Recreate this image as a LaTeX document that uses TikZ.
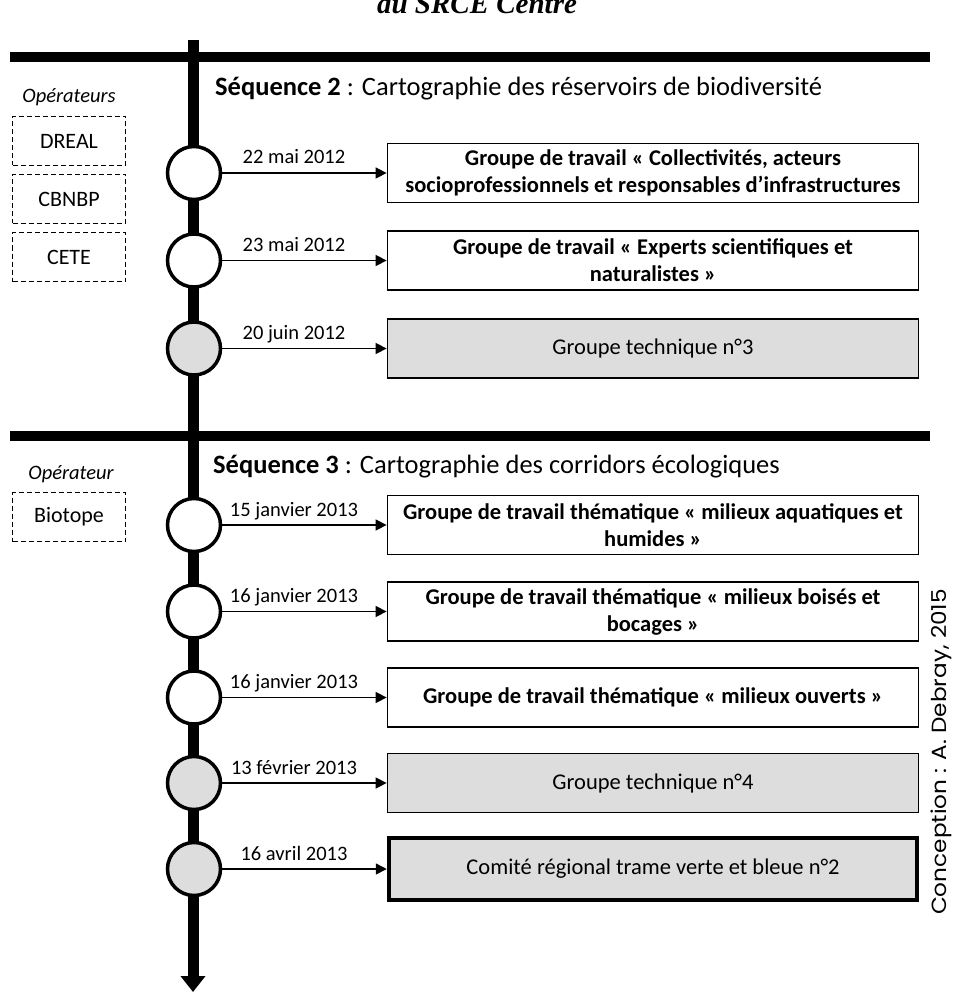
\documentclass[tikz,border=0pt]{standalone}
\usepackage{fontspec}
\setmainfont{Carlito}
\newfontfamily\titlefont{Liberation Serif}
\newfontfamily\creditfont{Poppins}
\usetikzlibrary{arrows.meta}

\definecolor{boxgray}{RGB}{221,221,221}

\tikzset{
  spine/.style={line width=11pt, -{Triangle[length=16pt,width=24pt]}},
  bar/.style={line width=10pt},
  event/.style={circle, draw, line width=3.5pt, minimum size=53pt, inner sep=0pt, fill=white},
  techevent/.style={event, fill=boxgray},
  link/.style={line width=1.5pt, -{Triangle[length=11pt,width=11pt]}},
  datelbl/.style={font=\fontsize{20.5}{24}\selectfont, anchor=base, inner sep=0pt},
  meeting/.style={draw, line width=1.8pt, fill=white, minimum width=531pt, minimum height=59pt,
                  align=center, inner sep=0pt, font=\fontsize{22.5}{27}\selectfont\bfseries},
  techmeeting/.style={meeting, fill=boxgray, font=\fontsize{22.5}{27}\selectfont},
  committee/.style={meeting, line width=4.5pt, fill=boxgray, minimum width=528pt, minimum height=62pt,
                    font=\fontsize{22.5}{27}\selectfont},
  heading/.style={anchor=base west, inner sep=0pt, font=\fontsize{26.5}{30}\selectfont},
  operlbl/.style={anchor=base, inner sep=0pt, font=\fontsize{20.5}{24}\selectfont\itshape},
  operbox/.style={draw, dash pattern=on 5pt off 3pt, line width=1.5pt, minimum width=113pt,
                  minimum height=49pt, inner sep=0pt, font=\fontsize{22}{26}\selectfont},
}

\begin{document}
\begin{tikzpicture}[x=1pt, y=-1pt]
  \useasboundingbox (0,0) rectangle (954,992);

  % title, partly above the page edge
  \node[anchor=base, inner sep=0pt, font=\titlefont\fontsize{29}{32}\selectfont\bfseries\itshape]
    (title) at (477,14) {du SRCE Centre};

  % timeline spine and sequence separators
  \coordinate (spinetop) at (193,40);
  \coordinate (spineend) at (193,992);
  \draw[spine] (spinetop) -- (spineend);
  \coordinate (barAl) at (10,57);  \coordinate (barAr) at (930,57);
  \coordinate (barBl) at (10,436); \coordinate (barBr) at (930,436);
  \draw[bar] (barAl) -- (barAr);
  \draw[bar] (barBl) -- (barBr);

  % ---- Séquence 2 ----
  \node[heading] (seq2) at (215,96) {\textbf{Séquence 2} : Cartographie des réservoirs de biodiversité};
  \node[operlbl] (ops2) at (69,103) {Opérateurs};
  \node[operbox] (dreal) at (69,141) {DREAL};
  \node[operbox] (cbnbp) at (69,199) {CBNBP};
  \node[operbox] (cete)  at (69,257) {CETE};

  \node[event] (e1) at (194,173) {};
  \node[meeting] (m1) at (653,173) {Groupe de travail « Collectivités, acteurs\\socioprofessionnels et responsables d’infrastructures};
  \draw[link] (e1) -- (m1);
  \node[datelbl] (d1) at (294,164) {22 mai 2012};

  \node[event] (e2) at (194,260.5) {};
  \node[meeting] (m2) at (653,260.5) {Groupe de travail « Experts scientifiques et\\naturalistes »};
  \draw[link] (e2) -- (m2);
  \node[datelbl] (d2) at (294,251.5) {23 mai 2012};

  \node[techevent] (e3) at (194,348.5) {};
  \node[techmeeting] (m3) at (653,348.5) {Groupe technique n°3};
  \draw[link] (e3) -- (m3);
  \node[datelbl] (d3) at (294,339.5) {20 juin 2012};

  % ---- Séquence 3 ----
  \node[heading] (seq3) at (213,473) {\textbf{Séquence 3} : Cartographie des corridors écologiques};
  \node[operlbl] (ops3) at (71,479) {Opérateur};
  \node[operbox] (biotope) at (69,517) {Biotope};

  \node[event] (e4) at (194,525) {};
  \node[meeting] (m4) at (653,525) {Groupe de travail thématique « milieux aquatiques et\\humides »};
  \draw[link] (e4) -- (m4);
  \node[datelbl] (d4) at (294,516) {15 janvier 2013};

  \node[event] (e5) at (194,611.5) {};
  \node[meeting] (m5) at (653,611.5) {Groupe de travail thématique « milieux boisés et\\bocages »};
  \draw[link] (e5) -- (m5);
  \node[datelbl] (d5) at (294,602.5) {16 janvier 2013};

  \node[event] (e6) at (194,697.5) {};
  \node[meeting] (m6) at (653,697.5) {Groupe de travail thématique « milieux ouverts »};
  \draw[link] (e6) -- (m6);
  \node[datelbl] (d6) at (294,688.5) {16 janvier 2013};

  \node[techevent] (e7) at (194,783) {};
  \node[techmeeting] (m7) at (653,783) {Groupe technique n°4};
  \draw[link] (e7) -- (m7);
  \node[datelbl] (d7) at (294,774) {13 février 2013};

  \node[techevent] (e8) at (194,869) {};
  \node[committee] (m8) at (653,869) {Comité régional trame verte et bleue n°2};
  \draw[link] (e8) -- (m8);
  \node[datelbl] (d8) at (294,860) {16 avril 2013};

  % credit line, read bottom to top
  \node[rotate=90, inner sep=0pt, font=\creditfont\fontsize{20.5}{24}\selectfont]
    (credit) at (941,752) {\scalebox{1.13}[1]{Conception : A. Debray, 2015}};
\end{tikzpicture}
\end{document}
